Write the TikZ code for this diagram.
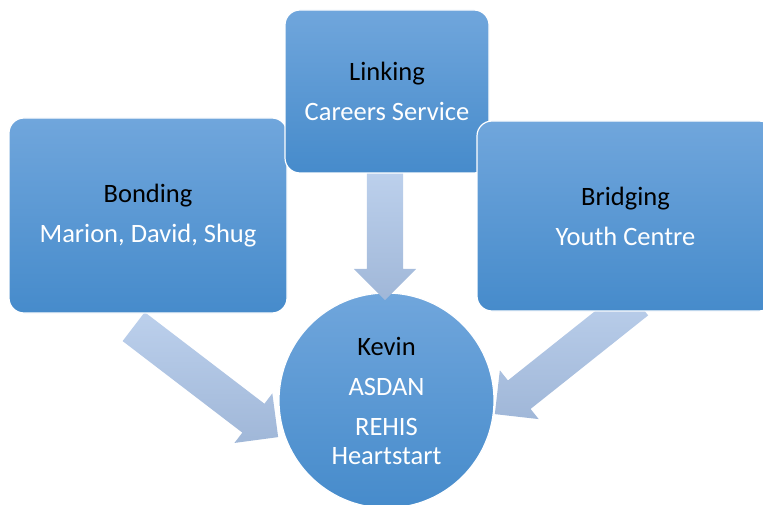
\documentclass[tikz,border=0pt]{standalone}
\usepackage{fontspec}
\setmainfont{Carlito}
\usepackage{xcolor}
\usepackage{tikz}
\usetikzlibrary{calc,shapes.arrows}

\definecolor{boxtop}{RGB}{112,166,220}
\definecolor{boxbot}{RGB}{70,139,203}
\definecolor{arrowtail}{RGB}{188,208,236}
\definecolor{arrowtip}{RGB}{160,183,216}

\tikzset{
    group/.style={rectangle,rounded corners=15pt,draw=white,line width=1.2pt,
        top color=boxtop,bottom color=boxbot,text=white,align=center,inner sep=0pt,
        font=\fontsize{26.5}{29}\selectfont},
    person/.style={group,circle,rounded corners=0pt,minimum size=215},
    bigarrow/.style={single arrow,single arrow head extend=13pt,inner xsep=0pt,
        inner ysep=18pt,top color=arrowtail,bottom color=arrowtip,anchor=tail}
}
\newcommand{\blockarrow}[2]{%
    \path let \p1=($(#2)-(#1)$), \n1={atan2(\y1,\x1)}, \n2={veclen(\x1,\y1)} in
        node[bigarrow,minimum height=\n2,rotate=\n1] at (#1) {};}

\begin{document}
\begin{tikzpicture}[x=1pt,y=-1pt]
            \useasboundingbox (0,0) rectangle (763,505);
            \clip (0,0) rectangle (763,505);
            \coordinate (linktail) at (385,173);
            \coordinate (linktip) at (385,300);
            \coordinate (bondtail) at (133.5,326.5);
            \coordinate (bondtip) at (278,437);
            \coordinate (bridgetail) at (637,301);
            \coordinate (bridgetip) at (495,414);
            \node[person] (kevin) at (386.5,400.5)
                {\textcolor{black}{Kevin}\\[11pt]ASDAN\\[11pt]REHIS\\Heartstart};
            \blockarrow{linktail}{linktip}
            \blockarrow{bondtail}{bondtip}
            \blockarrow{bridgetail}{bridgetip}
            \node[group,minimum width=278,minimum height=195] (bonding) at (148,215.5)
                {\textcolor{black}{Bonding}\\[11pt]Marion, David, Shug};
            \node[group,minimum width=204,minimum height=163] (linking) at (387,91.5)
                {\textcolor{black}{Linking}\\[11pt]Careers Service};
            \node[group,minimum width=297,minimum height=190] (bridging) at (625.5,216)
                {\textcolor{black}{Bridging}\\[11pt]Youth Centre};
\end{tikzpicture}
\end{document}
